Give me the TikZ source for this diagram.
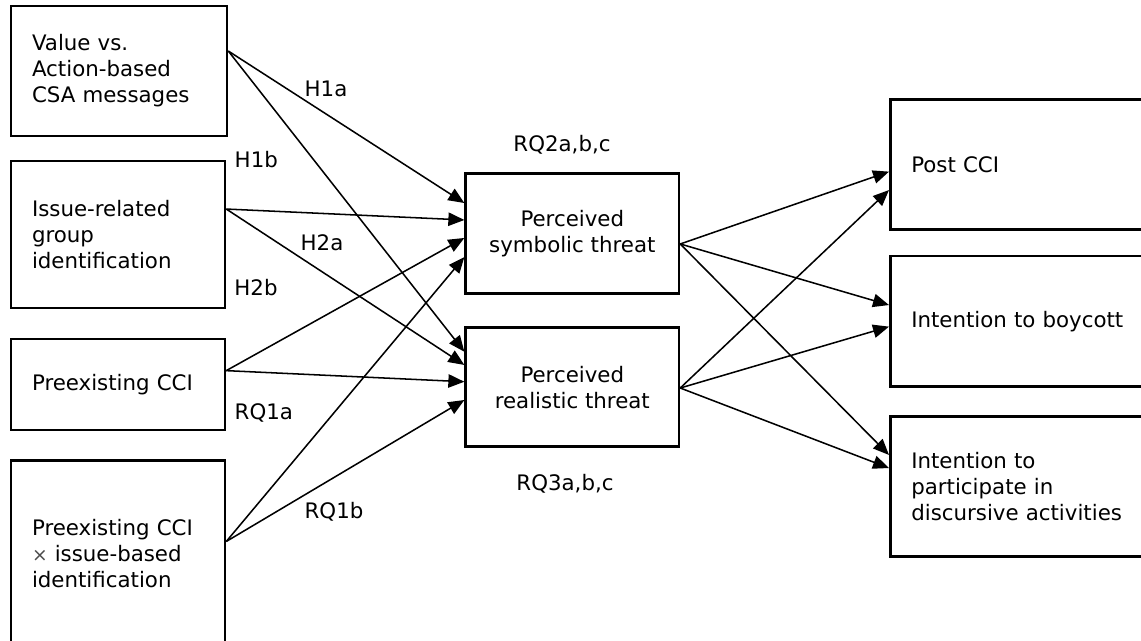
\documentclass[tikz,border=0pt]{standalone}
\usepackage{fontspec}
\setmainfont{DejaVu Sans}
\usetikzlibrary{arrows.meta}
\tikzset{
  txt/.style={font=\fontsize{16}{19.5}\selectfont},
  box/.style={txt, draw, line width=1.9pt, inner xsep=15.75pt, inner ysep=0pt},
  lbox/.style n args={3}{box, minimum width=#1, text width=#3, minimum height=#2, align=left},
  cbox/.style 2 args={box, minimum width=#1, minimum height=#2, align=center},
  conn/.style={line width=1.15pt, -{Triangle[length=12pt,width=10pt]}},
  lbl/.style={txt, inner sep=0pt}
}
\begin{document}
\begin{tikzpicture}[x=0.75pt, y=-0.75pt]
  \useasboundingbox (0,0) rectangle (1141,640);
  \clip (0,0) rectangle (1141,640);

  % predictors
  \node[lbox={162pt}{97.5pt}{130.5pt}] (A) at (119,71)
    {Value vs.\\Action-based\\CSA messages};
  \node[lbox={160.5pt}{110.25pt}{129pt}] (B) at (118,234.5)
    {Issue-related\\group\\identification};
  \node[lbox={160.5pt}{68.25pt}{129pt}] (C) at (118,384.5)
    {Preexisting CCI};
  \node[lbox={160.5pt}{140.25pt}{129pt}] (D) at (118,554)
    {Preexisting CCI\\{\fontsize{14}{19.5}\selectfont\color{black!70}×} issue-based\\identification};

  % mediators
  \node[cbox={160pt}{90pt}] (S) at (572.3,233.3) {Perceived\\symbolic threat};
  \node[cbox={160pt}{89.25pt}] (R) at (572.3,387.2) {Perceived\\realistic threat};

  % outcomes
  \node[lbox={210pt}{97.5pt}{178.5pt}, anchor=west] (P) at (889,164.3) {Post CCI};
  \node[lbox={210pt}{98pt}{178.5pt}, anchor=west] (Bo) at (889,321.3) {Intention to boycott};
  \node[lbox={210pt}{105pt}{178.5pt}, anchor=west] (Pa) at (889,486.7)
    {Intention to\\participate in\\discursive activities};

  % paths into the mediators
  \draw[conn] ([yshift=15pt]A.east)   -- ([yshift=22.7pt]S.west);
  \draw[conn] ([yshift=15pt]A.east)   -- ([yshift=26.6pt]R.west);
  \draw[conn] ([yshift=19.1pt]B.east) -- ([yshift=10pt]S.west);
  \draw[conn] ([yshift=19.1pt]B.east) -- ([yshift=16.7pt]R.west);
  \draw[conn] ([yshift=10.4pt]C.east) -- ([yshift=-3.5pt]S.west);
  \draw[conn] ([yshift=10.4pt]C.east) -- ([yshift=4.1pt]R.west);
  \draw[conn] ([yshift=9.4pt]D.east)  -- ([yshift=-17.8pt]S.west);
  \draw[conn] ([yshift=9.4pt]D.east)  -- ([yshift=-9.6pt]R.west);

  % paths into the outcomes
  \draw[conn] ([yshift=-8pt]S.east)   -- ([yshift=-5.5pt]P.west);
  \draw[conn] ([yshift=-8pt]S.east)   -- ([yshift=12.2pt]Bo.west);
  \draw[conn] ([yshift=-8pt]S.east)   -- ([yshift=23.8pt]Pa.west);
  \draw[conn] ([yshift=-0.6pt]R.east) -- ([yshift=-19.3pt]P.west);
  \draw[conn] ([yshift=-0.6pt]R.east) -- ([yshift=-4pt]Bo.west);
  \draw[conn] ([yshift=-0.6pt]R.east) -- ([yshift=14pt]Pa.west);

  % hypothesis labels
  \node[lbl] (h1a)  at (326,89)    {H1a};
  \node[lbl] (h1b)  at (256.3,159.3) {H1b};
  \node[lbl] (h2a)  at (322,242.7) {H2a};
  \node[lbl] (h2b)  at (256,287.3) {H2b};
  \node[lbl] (rq1a) at (263.8,412.7) {RQ1a};
  \node[lbl] (rq1b) at (334,511.7) {RQ1b};
  \node[lbl] (rq2)  at (562,145)   {RQ2a,b,c};
  \node[lbl] (rq3)  at (565,484)   {RQ3a,b,c};
\end{tikzpicture}
\end{document}
